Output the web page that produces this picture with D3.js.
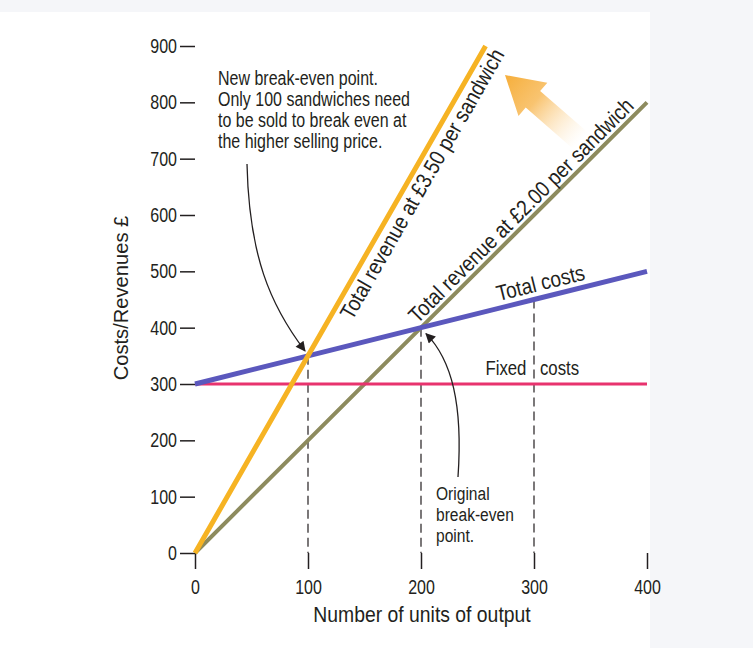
<!DOCTYPE html>
<html>
<head>
<meta charset="utf-8">
<script src="https://cdn.jsdelivr.net/npm/d3@7"></script>
<style>
  html, body { margin: 0; padding: 0; background: #f5f6f9; }
  svg { display: block; }
  text { font-family: "Liberation Sans", Arial, sans-serif; fill: #231f20; }
</style>
</head>
<body>
<svg id="chart" width="753" height="648"></svg>
<script>
// ---- Data ----
const xTickValues = [0, 100, 200, 300, 400];
const yTickValues = [0, 100, 200, 300, 400, 500, 600, 700, 800, 900];
const output = [0, 100, 200, 300, 400];
const fixedCosts = [300, 300, 300, 300, 300];
const totalCosts = [300, 350, 400, 450, 500];
const revenueAt200 = [0, 200, 400, 600, 800];
const outputAt350 = [0, 100, 200, 257.14];
const revenueAt350 = [0, 350, 700, 900];
const guideOutputs = [100, 200, 300];
const guideValues = [350, 400, 450];
const xTitle = "Number of units of output";
const yTitle = "Costs/Revenues £";
const noteNew = ["New break-even point.", "Only 100 sandwiches need", "to be sold to break even at", "the higher selling price."];
const noteOrig = ["Original", "break-even", "point."];

// ---- Setup ----
const svg = d3.select("#chart");
const x = d3.scaleLinear().domain([0, 400]).range([195, 647]);
const y = d3.scaleLinear().domain([0, 900]).range([553, 46]);

// horizontally condense text (the original uses a condensed grotesque)
function condense(sel, K) {
  sel.each(function () {
    const t = d3.select(this);
    const tr = t.attr("transform") || "";
    if (t.attr("x") != null) t.attr("x", +t.attr("x") / K);
    t.selectAll("tspan").each(function () {
      const s = d3.select(this);
      if (s.attr("x") != null) s.attr("x", +s.attr("x") / K);
    });
    t.attr("transform", (tr + ` scale(${K},1)`).trim());
  });
}

// paper background
svg.append("rect").attr("x", 0).attr("y", 12).attr("width", 650).attr("height", 636).attr("fill", "#ffffff");

const defs = svg.append("defs");
defs.append("marker")
  .attr("id", "ah").attr("viewBox", "0 0 10 10").attr("refX", 9).attr("refY", 5)
  .attr("markerWidth", 13).attr("markerHeight", 10).attr("markerUnits", "userSpaceOnUse")
  .attr("orient", "auto")
  .append("path").attr("d", "M0,0 L10,5 L0,10 Z").attr("fill", "#231f20");
const grad = defs.append("linearGradient").attr("id", "bigArrowGrad")
  .attr("x1", 0).attr("y1", 0).attr("x2", 1).attr("y2", 0);
grad.append("stop").attr("offset", "0%").attr("stop-color", "#f6ae3a").attr("stop-opacity", 1);
grad.append("stop").attr("offset", "40%").attr("stop-color", "#f8bd60").attr("stop-opacity", 0.9);
grad.append("stop").attr("offset", "100%").attr("stop-color", "#fde6c2").attr("stop-opacity", 0);

// ---- Axes ----
const yAxis = d3.axisLeft(y).tickValues(yTickValues).tickSize(15).tickPadding(3);
const gy = svg.append("g").attr("transform", `translate(${x(0)},0)`).call(yAxis);
gy.select(".domain").remove();
gy.selectAll(".tick line").attr("stroke", "#231f20").attr("stroke-width", 1.5);
gy.selectAll(".tick text").attr("font-size", 20).attr("fill", "#231f20")
  .style("font-family", '"Liberation Sans", Arial, sans-serif');
condense(gy.selectAll(".tick text"), 0.8);

const xAxis = d3.axisBottom(x).tickValues(xTickValues).tickSize(16).tickPadding(11);
const gx = svg.append("g").attr("transform", `translate(0,${y(0)})`).call(xAxis);
gx.select(".domain").remove();
gx.selectAll(".tick line").attr("stroke", "#231f20").attr("stroke-width", 1.5);
gx.selectAll(".tick text").attr("font-size", 20).attr("fill", "#231f20")
  .style("font-family", '"Liberation Sans", Arial, sans-serif');
condense(gx.selectAll(".tick text"), 0.8);

condense(svg.append("text").attr("x", (x(0) + x(400)) / 2 + 1).attr("y", 622)
  .attr("text-anchor", "middle").attr("font-size", 22).text(xTitle), 0.88);
condense(svg.append("text").attr("transform", `translate(128,298) rotate(-90)`)
  .attr("text-anchor", "middle").attr("font-size", 21).text(yTitle), 0.96);

// ---- Guides ----
svg.append("g").selectAll("line").data(guideOutputs).join("line")
  .attr("x1", d => x(d)).attr("x2", d => x(d))
  .attr("y1", (d, i) => y(guideValues[i])).attr("y2", y(0))
  .attr("stroke", "#231f20").attr("stroke-width", 1.2).attr("stroke-dasharray", "9,5");

// ---- Lines ----
const line = d3.line().x(d => x(d[0])).y(d => y(d[1]));
function draw(xs, ys, color, w) {
  svg.append("path").datum(xs.map((v, i) => [v, ys[i]]))
    .attr("d", line).attr("fill", "none").attr("stroke", color).attr("stroke-width", w);
}
draw(output, revenueAt200, "#8d8b5e", 4);
draw(output, fixedCosts, "#e8336e", 3);
draw(output, totalCosts, "#5b58bd", 5);
draw(outputAt350, revenueAt350, "#f6b323", 5);

// ---- Line labels ----
function labelAlong(xs, ys, xd, text, dy, size, K) {
  const f = d3.scaleLinear().domain([xs[0], xs[xs.length - 1]]).range([ys[0], ys[ys.length - 1]]);
  const px = x(xd), py = y(f(xd));
  const ang = Math.atan2(y(f(xd + 10)) - py, x(xd + 10) - px) * 180 / Math.PI;
  condense(svg.append("text").attr("transform", `translate(${px},${py}) rotate(${ang})`)
    .attr("dy", dy).attr("font-size", size).text(text), K);
}
labelAlong(outputAt350, revenueAt350, 123, "Total revenue at £3.50 per sandwich", 21, 22, 0.87);
labelAlong(output, revenueAt200, 200, "Total revenue at £2.00 per sandwich", -5, 22, 0.87);
labelAlong(output, totalCosts, 270, "Total costs", -7, 22, 0.87);
condense(svg.append("text").attr("x", x(257)).attr("y", y(300) - 9).attr("font-size", 21)
  .style("word-spacing", "11px").text("Fixed costs"), 0.8);

// ---- Annotations ----
const t1 = svg.append("text").attr("x", 218).attr("y", 85).attr("font-size", 19.5);
t1.selectAll("tspan").data(noteNew).join("tspan")
  .attr("x", 218).attr("dy", (d, i) => i === 0 ? 0 : 21).text(d => d);
condense(t1, 0.82);
const t2 = svg.append("text").attr("x", 436).attr("y", 500).attr("font-size", 19);
t2.selectAll("tspan").data(noteOrig).join("tspan")
  .attr("x", 436).attr("dy", (d, i) => i === 0 ? 0 : 21).text(d => d);
condense(t2, 0.82);

// curved pointer arrows
svg.append("path").attr("d", `M247,164 C249,255 270,305 ${x(100) - 3},${y(350) - 5}`)
  .attr("fill", "none").attr("stroke", "#231f20").attr("stroke-width", 1.3).attr("marker-end", "url(#ah)");
svg.append("path").attr("d", `M458,477 C463,405 452,360 ${x(200) + 5},${y(400) + 6}`)
  .attr("fill", "none").attr("stroke", "#231f20").attr("stroke-width", 1.3).attr("marker-end", "url(#ah)");

// big orange arrow (pointing up-left)
svg.append("path")
  .attr("transform", "translate(505,75) rotate(41)")
  .attr("d", "M0,0 L37,-22 L37,-11 L100,-11 L100,11 L37,11 L37,22 Z")
  .attr("fill", "url(#bigArrowGrad)");
</script>
</body>
</html>
